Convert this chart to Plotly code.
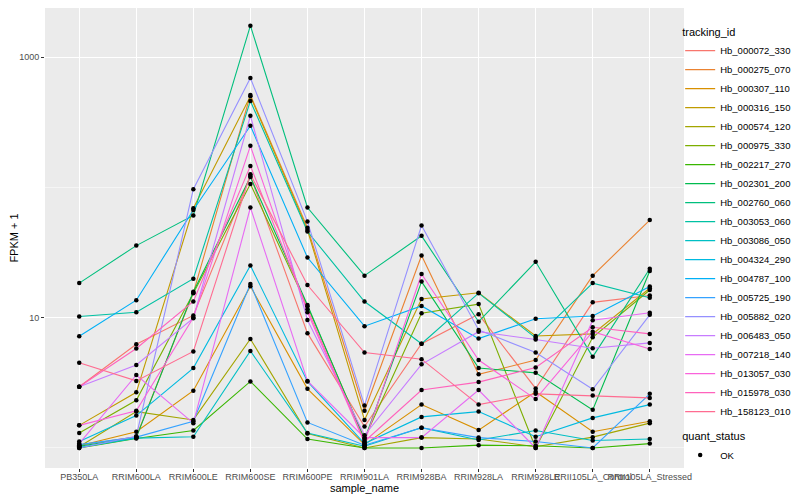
import plotly.graph_objects as go

samples = ["PB350LA", "RRIM600LA", "RRIM600LE", "RRIM600SE", "RRIM600PE", "RRIM901LA",
           "RRIM928BA", "RRIM928LA", "RRIM928LE", "RRII105LA_Control", "RRII105LA_Stressed"]

tracking_ids = ["Hb_000072_330", "Hb_000275_070", "Hb_000307_110", "Hb_000316_150", "Hb_000574_120",
                "Hb_000975_330", "Hb_002217_270", "Hb_002301_200", "Hb_002760_060", "Hb_003053_060",
                "Hb_003086_050", "Hb_004324_290", "Hb_004787_100", "Hb_005725_190", "Hb_005882_020",
                "Hb_006483_050", "Hb_007218_140", "Hb_013057_030", "Hb_015978_030", "Hb_158123_010"]

colors = ["#F8766D", "#EA8331", "#D89000", "#C09B00", "#A3A500", "#7CAE00", "#39B600", "#00BB4E",
          "#00BF7D", "#00C1A3", "#00BFC4", "#00BAE0", "#00B0F6", "#35A2FF", "#9590FF", "#C77CFF",
          "#E76BF3", "#FA62DB", "#FF62BC", "#FF6C91"]

# FPKM + 1 per tracking_id, in sample order
fpkm_000072_330 = [2.95, 6.25, 10.4, 122, 7.6, 1.46, 6.3, 10.6, 2.86, 13.1, 14.8]
fpkm_000275_070 = [1.05, 1.22, 15.5, 511, 49, 1.93, 30, 3.67, 4.73, 21, 56]
fpkm_000307_110 = [1.04, 1.33, 2.75, 17.4, 2.84, 1.06, 2.15, 1.37, 2.7, 1.33, 1.6]
fpkm_000316_150 = [1.49, 2.67, 69, 500, 47, 1.64, 13.9, 15.5, 7.23, 7.5, 16.8]
fpkm_000574_120 = [1.02, 1.9, 1.64, 6.86, 1.29, 1.0, 1.2, 1.17, 1.02, 1.21, 1.55]
fpkm_000975_330 = [1.3, 2.32, 15.4, 106, 12.2, 1.18, 10.8, 12.7, 1.0, 7.07, 16.3]
fpkm_002217_270 = [1.0, 1.18, 1.36, 3.24, 1.17, 1.0, 1.0, 1.05, 1.04, 1.0, 1.08]
fpkm_002301_200 = [1.03, 1.2, 15.8, 120, 12.5, 1.15, 18.9, 4.1, 3.77, 1.96, 22.8]
fpkm_002760_060 = [18.4, 35.7, 60.8, 1740, 70, 21, 42.4, 9.3, 26.8, 5.0, 23.7]
fpkm_003053_060 = [10.2, 11.0, 19.9, 460, 45.8, 13.3, 6.3, 15.4, 7.0, 18.4, 14.2]
fpkm_003086_050 = [1.01, 1.19, 1.22, 5.55, 1.3, 1.03, 1.43, 1.15, 1.36, 1.14, 1.17]
fpkm_004324_290 = [1.12, 1.77, 4.1, 25.1, 3.24, 1.08, 1.73, 1.9, 1.22, 1.7, 2.15]
fpkm_004787_100 = [7.2, 13.6, 67, 297, 28.9, 8.6, 12.3, 6.9, 9.8, 10.3, 17.3]
fpkm_005725_190 = [1.06, 1.21, 1.6, 18.1, 1.57, 1.05, 1.43, 1.2, 1.12, 1.0, 2.6]
fpkm_005882_020 = [1.0, 1.23, 96.8, 690, 54.6, 2.12, 50.9, 8.05, 5.4, 2.82, 10.5]
fpkm_006483_050 = [2.95, 4.33, 9.9, 354, 9.6, 1.25, 4.38, 7.8, 6.8, 5.82, 6.4]
fpkm_007218_140 = [1.08, 3.63, 1.55, 70, 3.27, 1.2, 1.2, 2.78, 1.0, 9.55, 10.9]
fpkm_013057_030 = [1.49, 1.93, 10.0, 208, 11.0, 1.1, 21.6, 4.73, 2.37, 7.8, 5.75]
fpkm_015978_030 = [2.95, 5.8, 13.3, 146, 11.6, 1.12, 2.78, 3.2, 4.14, 8.44, 7.5]
fpkm_158123_010 = [4.5, 3.27, 5.5, 126, 17.8, 5.4, 4.8, 2.15, 2.6, 2.52, 2.42]

series = [fpkm_000072_330, fpkm_000275_070, fpkm_000307_110, fpkm_000316_150, fpkm_000574_120,
          fpkm_000975_330, fpkm_002217_270, fpkm_002301_200, fpkm_002760_060, fpkm_003053_060,
          fpkm_003086_050, fpkm_004324_290, fpkm_004787_100, fpkm_005725_190, fpkm_005882_020,
          fpkm_006483_050, fpkm_007218_140, fpkm_013057_030, fpkm_015978_030, fpkm_158123_010]

y_major = [10, 1000]
y_minor = [1, 100]

FONT = "Liberation Sans, Arial, sans-serif"

fig = go.Figure()
for name, col, vals in zip(tracking_ids, colors, series):
    fig.add_trace(go.Scatter(x=samples, y=vals, mode="lines", name=name,
                             line=dict(color=col, width=1.1), legend="legend"))

all_x, all_y = [], []
for vals in series:
    all_x.extend(samples)
    all_y.extend(vals)
fig.add_trace(go.Scatter(x=all_x, y=all_y, mode="markers", name="OK",
                         marker=dict(color="black", size=4.5), legend="legend2"))

# page body adds an 8px margin, so the figure is 792x492 to fit the 800x500 window
fig.update_layout(
    width=792, height=492,
    paper_bgcolor="white", plot_bgcolor="#EBEBEB",
    margin=dict(l=37, r=116, t=0, b=32, autoexpand=False),
    font=dict(family=FONT, size=10, color="black"),
    xaxis=dict(type="category", categoryorder="array", categoryarray=samples,
               range=[-0.6, 10.6], showgrid=True, gridcolor="white", gridwidth=1.1,
               ticks="outside", ticklen=3, tickcolor="#333333", tickwidth=1,
               tickangle=0, tickfont=dict(size=9, color="#4D4D4D", family=FONT),
               ticklabelstandoff=-3,
               title=dict(text="sample_name", font=dict(size=11, color="black"), standoff=0),
               zeroline=False, showline=False, automargin=False),
    yaxis=dict(type="log", range=[-0.154, 3.376], tickvals=y_major,
               ticktext=[str(v) for v in y_major],
               showgrid=True, gridcolor="white", gridwidth=1.1,
               minor=dict(tickvals=y_minor, showgrid=True, gridcolor="#F5F5F5", gridwidth=0.6, ticklen=0),
               ticks="outside", ticklen=3, tickcolor="#333333", tickwidth=1,
               tickfont=dict(size=9, color="#4D4D4D", family=FONT),
               title=dict(text="FPKM + 1", font=dict(size=11, color="black"), standoff=3),
               zeroline=False, showline=False, automargin=False),
    legend=dict(x=0.994, y=0.97, xanchor="left", yanchor="top",
                title=dict(text="tracking_id", font=dict(size=11)),
                font=dict(size=9.5), itemwidth=30, tracegroupgap=0,
                bgcolor="rgba(0,0,0,0)"),
    legend2=dict(x=0.994, y=0.091, xanchor="left", yanchor="top",
                 title=dict(text="quant_status", font=dict(size=11)),
                 font=dict(size=9.5), itemwidth=30, bgcolor="rgba(0,0,0,0)"),
)

fig.write_html("out.html")
